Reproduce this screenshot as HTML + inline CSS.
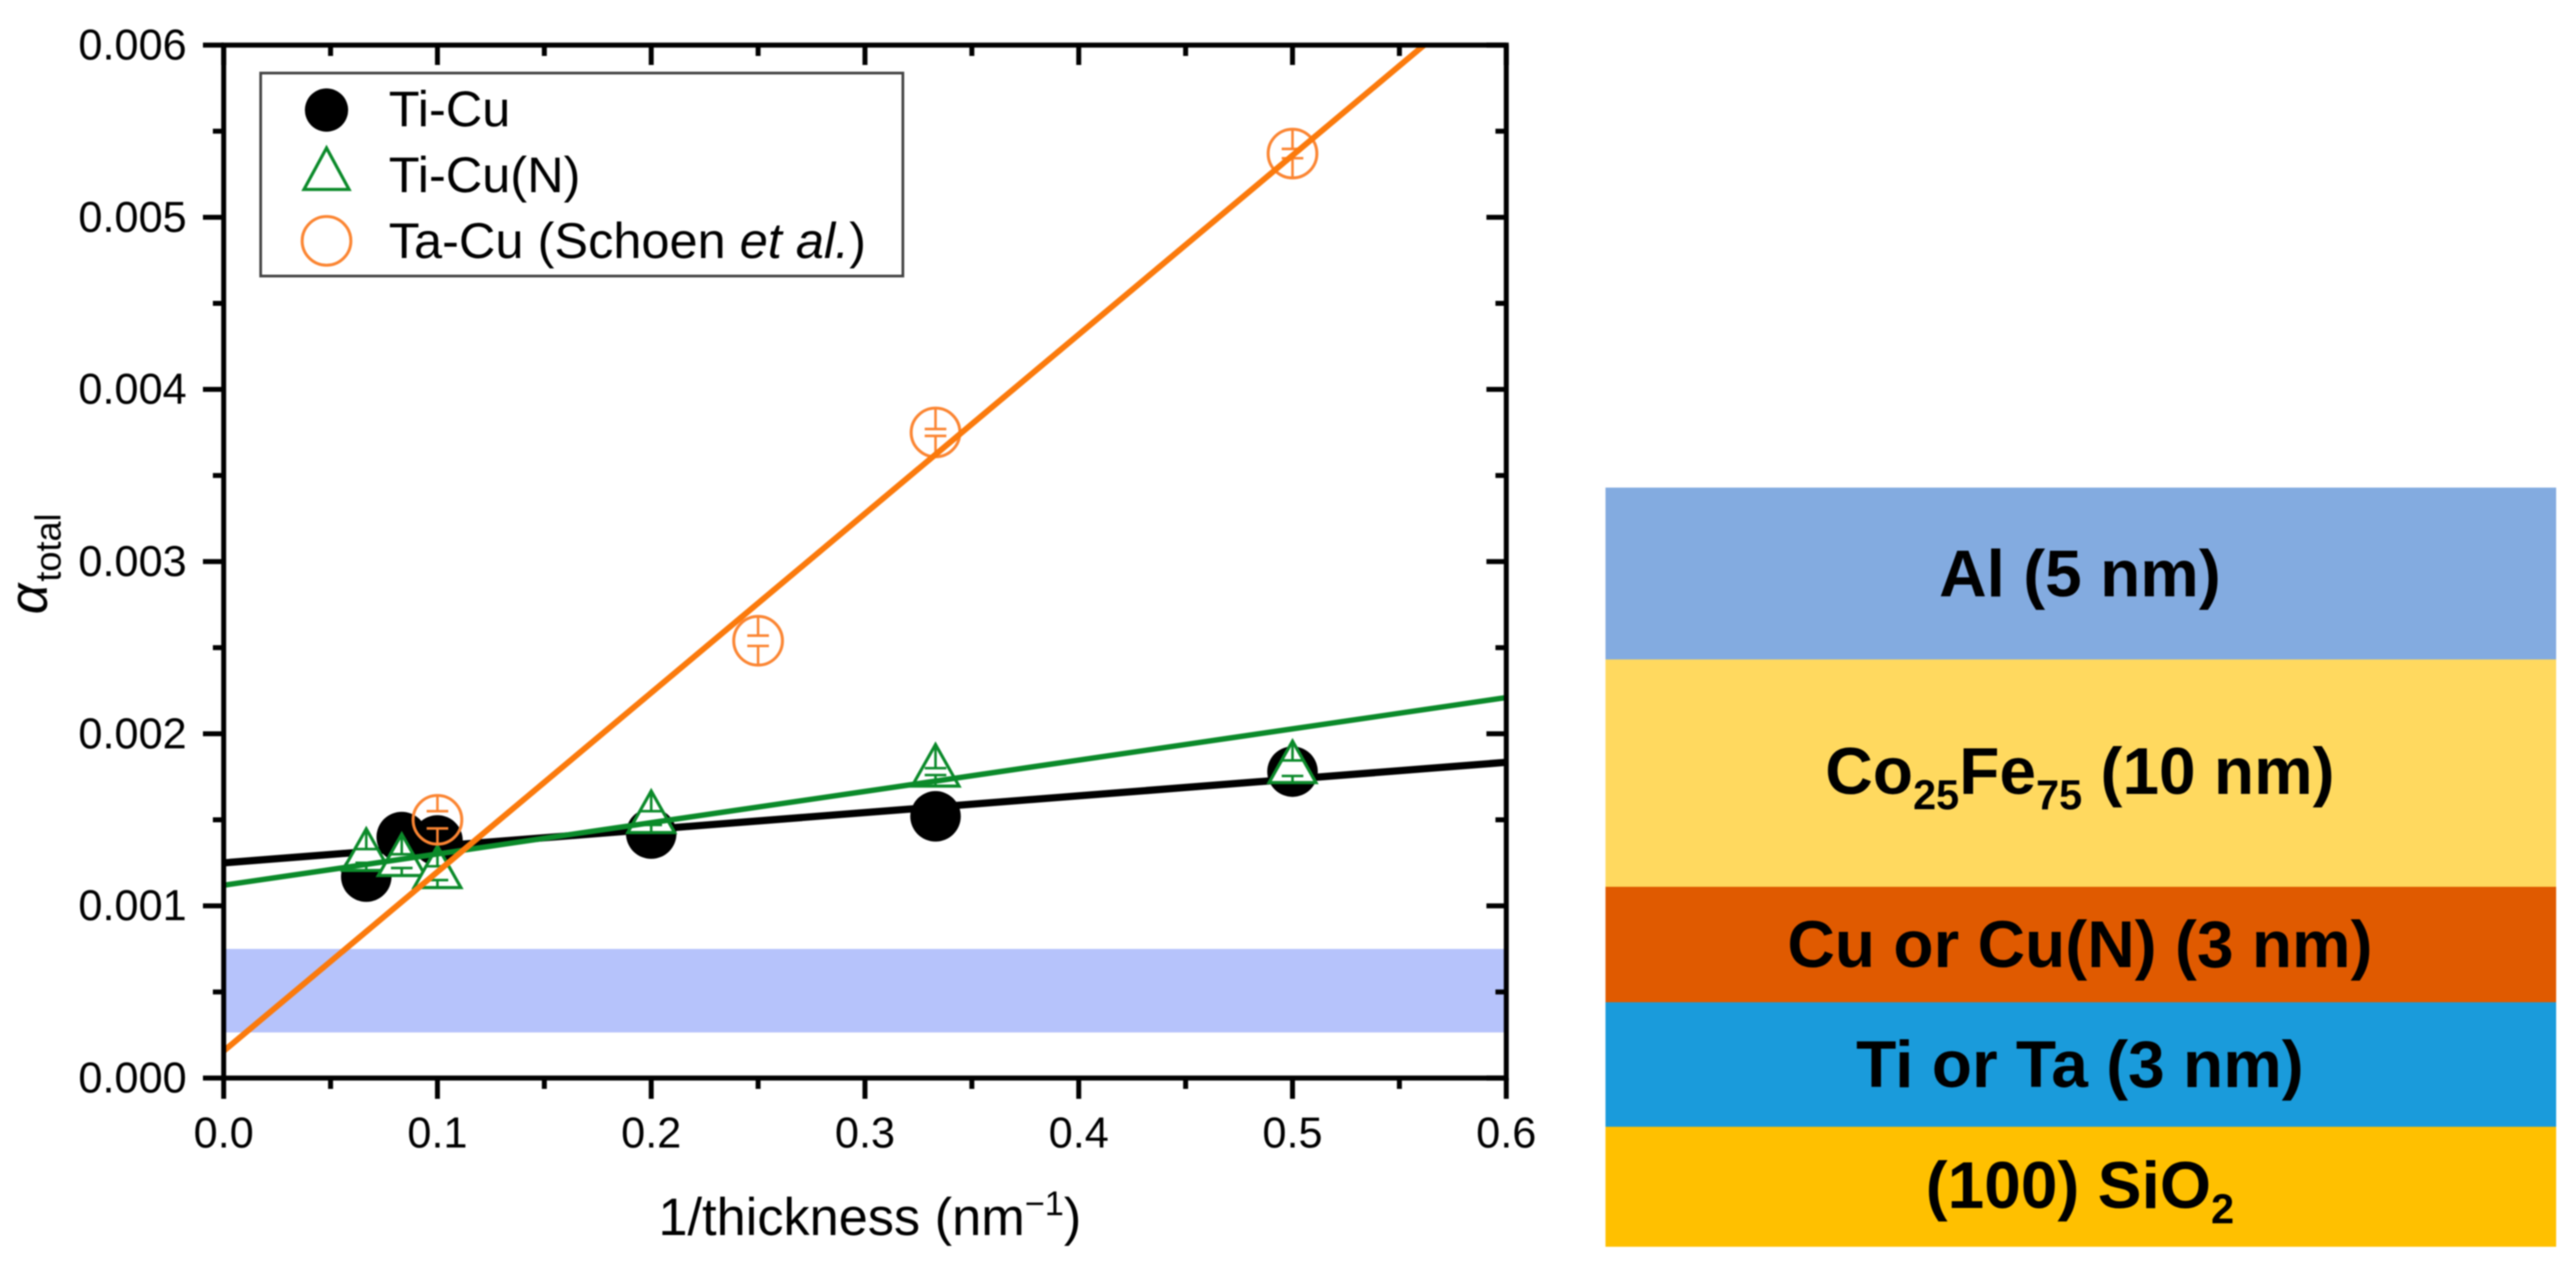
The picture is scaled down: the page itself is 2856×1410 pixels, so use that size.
<!DOCTYPE html>
<html lang="en">
<head>
<meta charset="utf-8">
<title>Damping vs inverse thickness and film stack</title>
<style>
html,body{margin:0;padding:0;background:#fff;width:2856px;height:1410px;overflow:hidden}
svg{display:block;filter:blur(0.7px)}
text{font-family:"Liberation Sans",sans-serif;fill:#000}
</style>
</head>
<body>
<svg id="fig" xmlns="http://www.w3.org/2000/svg" width="2856" height="1410" viewBox="0 0 2856 1410">
  <defs><clipPath id="plot-clip"><rect x="248" y="50" width="1422" height="1145"/></clipPath></defs>
  <g id="plot">
    <g id="band"></g>
    <g id="marks" clip-path="url(#plot-clip)"></g>
    <g id="axes"></g>
    <g>
      <rect x="289" y="81" width="712" height="225" fill="#fff" stroke="#444" stroke-width="3"/>
      <circle cx="362" cy="122" r="24" fill="#000"/>
      <text x="431" y="140" font-size="56">Ti-Cu</text>
      <path d="M362 164 L387 210 L337 210 Z" fill="#fff" stroke="#0b8a2a" stroke-width="3.5"/>
      <text x="431" y="213" font-size="56">Ti-Cu(N)</text>
      <circle cx="362" cy="267" r="27" fill="none" stroke="#fb8532" stroke-width="3.3"/>
      <text x="431" y="286" font-size="56">Ta-Cu (Schoen <tspan font-style="italic">et al.</tspan>)</text>
    </g>
    <text x="730" y="1369" font-size="58">1/thickness (nm<tspan font-size="38" dy="-22">−1</tspan><tspan dy="22">)</tspan></text>
    <text transform="translate(52,681) rotate(-90)" font-size="60" font-style="italic">α<tspan font-size="40" font-style="normal" dy="15" dx="2">total</tspan></text>
  </g>
  <g>
    <rect x="1780" y="540.5" width="1054" height="191" fill="#83abe0"/>
    <rect x="1780" y="731" width="1054" height="252" fill="#ffd95f"/>
    <rect x="1780" y="983" width="1054" height="128" fill="#e05a00"/>
    <rect x="1780" y="1111" width="1054" height="138" fill="#1a9bdb"/>
    <rect x="1780" y="1249" width="1054" height="133" fill="#ffc000"/>
    <g font-size="73" font-weight="bold" text-anchor="middle">
      <text x="2306" y="661">Al (5 nm)</text>
      <text x="2306" y="880">Co<tspan font-size="46" dy="17">25</tspan><tspan dy="-17">Fe</tspan><tspan font-size="46" dy="17">75</tspan><tspan dy="-17"> (10 nm)</tspan></text>
      <text x="2306" y="1072">Cu or Cu(N) (3 nm)</text>
      <text x="2306" y="1205">Ti or Ta (3 nm)</text>
      <text x="2306" y="1339">(100) SiO<tspan font-size="46" dy="17">2</tspan></text>
    </g>
  </g>
</svg>
<script>
// Chart data
const thicknessInverse = [0.0667, 0.0833, 0.1, 0.2, 0.333, 0.5];
const tiCuValues = [0.00117, 0.0014, 0.00138, 0.00142, 0.00152, 0.00178];
const tiCuNValues = [0.00129, 0.00126, 0.00119, 0.00151, 0.00178, 0.0018];
const tiCuNErrors = [0.00004, 0.00004, 0.00004, 0.00004, 0.00002, 0.000045];
const taCuX = [0.1, 0.25, 0.333, 0.5];
const taCuValues = [0.0015, 0.00254, 0.00375, 0.00537];
const taCuErrors = [0.00005, 0.00003, 0.00002, 0.000027];
const tiCuFit = [0.00125, 0.001834];
const tiCuNFit = [0.00112, 0.00221];
const taCuFit = [0.000157, 0.00640];
const fitX = [0, 0.6];
const bandRange = [0.000265, 0.00075];
const xMajorTicks = [0, 0.1, 0.2, 0.3, 0.4, 0.5, 0.6];
const xMinorTicks = [0.05, 0.15, 0.25, 0.35, 0.45, 0.55];
const xTickLabels = ['0.0', '0.1', '0.2', '0.3', '0.4', '0.5', '0.6'];
const yMajorTicks = [0, 0.001, 0.002, 0.003, 0.004, 0.005, 0.006];
const yMinorTicks = [0.0005, 0.0015, 0.0025, 0.0035, 0.0045, 0.0055];
const yTickLabels = ['0.000', '0.001', '0.002', '0.003', '0.004', '0.005', '0.006'];

const NS = 'http://www.w3.org/2000/svg';
const LEFT = 248, RIGHT = 1670, TOP = 50, BOTTOM = 1195;
const sx = v => LEFT + (v / 0.6) * (RIGHT - LEFT);
const sy = v => BOTTOM - (v / 0.006) * (BOTTOM - TOP);
const bandG = document.getElementById('band');
const marks = document.getElementById('marks');
const axes = document.getElementById('axes');
const GREEN = '#0b8a2a', ORANGE = '#fb8532', ORANGE_LINE = '#fb7a0c';

function make(parent, tag, props) {
  const el = document.createElementNS(NS, tag);
  for (const k in props) el.setAttribute(k, props[k]);
  parent.appendChild(el);
  return el;
}

const bandRect = make(bandG, 'rect', {x: LEFT + 2, y: sy(bandRange[1]), width: RIGHT - LEFT - 4, height: sy(bandRange[0]) - sy(bandRange[1]), fill: '#b6c3fb'});



function fitLine(values, color, width, name) {
  const el = make(marks, 'line', {x1: sx(fitX[0]), y1: sy(values[0]), x2: sx(fitX[1]), y2: sy(values[1]), stroke: color, 'stroke-width': width});
  
  
}

function errorBars(x, cy, err, topY, bottomY, color, name) {
  const px = sx(x), up = sy(err), zero = sy(0), d = zero - up;
  const path = 'M' + px + ' ' + topY + ' V' + (cy - d) +
    ' M' + (px - 12) + ' ' + (cy - d) + ' H' + (px + 12) +
    ' M' + (px - 12) + ' ' + (cy + d) + ' H' + (px + 12) +
    ' M' + px + ' ' + (cy + d) + ' V' + bottomY;
  const el = make(marks, 'path', {d: path, fill: 'none', stroke: color, 'stroke-width': 2.8});
  
  
}

// black line and points
fitLine(tiCuFit, '#000', 8, 'fit-line-ti-cu');
thicknessInverse.forEach(function (x, i) {
  const dot = make(marks, 'circle', {cx: sx(x), cy: sy(tiCuValues[i]), r: 28, fill: '#000'});
  
  
});

// green triangles
thicknessInverse.forEach(function (x, i) {
  const px = sx(x), cy = sy(tiCuNValues[i]);
  const tri = make(marks, 'path', {d: 'M' + px + ' ' + (cy - 30) + ' L' + (px + 26) + ' ' + (cy + 16) + ' L' + (px - 26) + ' ' + (cy + 16) + ' Z', fill: '#fff', stroke: GREEN, 'stroke-width': 3.5, 'stroke-linejoin': 'miter'});
  
  
  errorBars(x, cy, tiCuNErrors[i], cy - 30, cy + 16, GREEN, 'error-bar-ti-cu-n');
});
fitLine(tiCuNFit, GREEN, 6, 'fit-line-ti-cu-n');

// orange circles
taCuX.forEach(function (x, i) {
  const cy = sy(taCuValues[i]);
  const ring = make(marks, 'circle', {cx: sx(x), cy: cy, r: 27, fill: 'none', stroke: ORANGE, 'stroke-width': 3.3});
  
  
  errorBars(x, cy, taCuErrors[i], cy - 27, cy + 27, ORANGE, 'error-bar-ta-cu');
});
fitLine(taCuFit, ORANGE_LINE, 6.5, 'fit-line-ta-cu');

// axes
const frame = make(axes, 'rect', {x: LEFT, y: TOP, width: RIGHT - LEFT, height: BOTTOM - TOP, fill: 'none', stroke: '#000', 'stroke-width': 5.5});



function tick(x1, y1, x2, y2, name) {
  const el = make(axes, 'line', {x1: x1, y1: y1, x2: x2, y2: y2, stroke: '#000', 'stroke-width': 5.5});
  
  
}
xMajorTicks.forEach(function (v, i) {
  tick(sx(v), BOTTOM, sx(v), BOTTOM + 23, 'x-tick');
  tick(sx(v), TOP, sx(v), TOP + 22, 'x-tick-top');
  const label = make(axes, 'text', {x: sx(v), y: 1272, 'font-size': 48, 'text-anchor': 'middle'});
  label.textContent = xTickLabels[i];
  
  
});
xMinorTicks.forEach(function (v) {
  tick(sx(v), BOTTOM, sx(v), BOTTOM + 12, 'x-minor-tick');
  tick(sx(v), TOP, sx(v), TOP + 12, 'x-minor-tick-top');
});
yMajorTicks.forEach(function (v, i) {
  tick(LEFT - 23, sy(v), LEFT, sy(v), 'y-tick');
  tick(RIGHT - 22, sy(v), RIGHT, sy(v), 'y-tick-right');
  const label = make(axes, 'text', {x: 207, y: sy(v) + 16, 'font-size': 48, 'text-anchor': 'end'});
  label.textContent = yTickLabels[i];
  
  
});
yMinorTicks.forEach(function (v) {
  tick(LEFT - 12, sy(v), LEFT, sy(v), 'y-minor-tick');
  tick(RIGHT - 12, sy(v), RIGHT, sy(v), 'y-minor-tick-right');
});
</script>
</body>
</html>
